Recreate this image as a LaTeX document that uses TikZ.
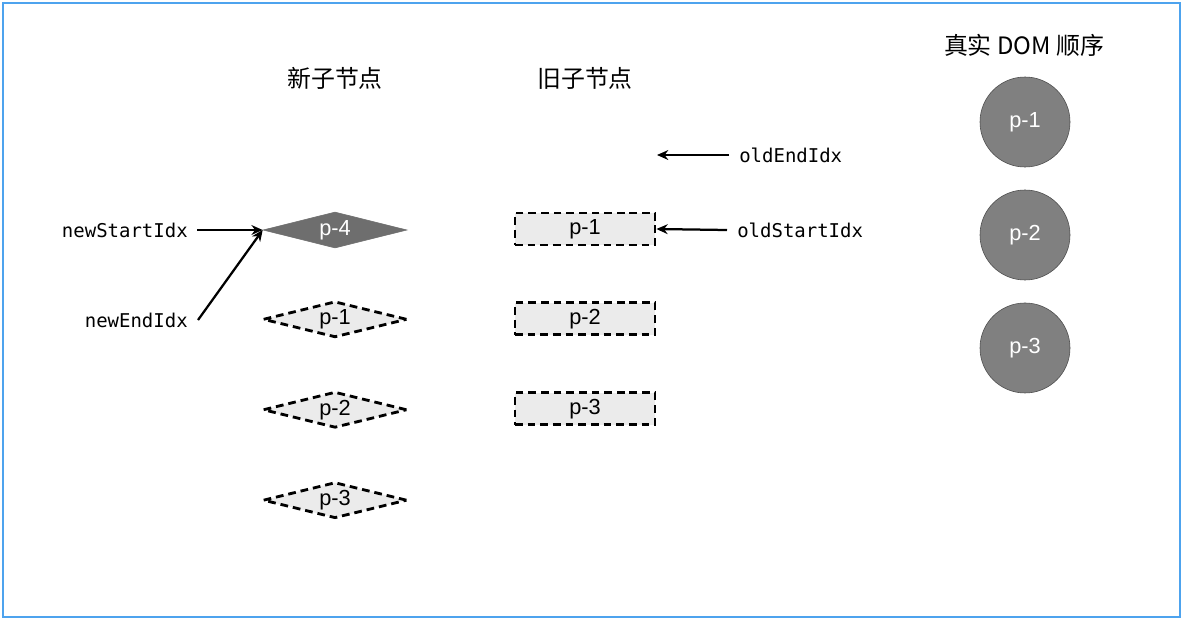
\documentclass[tikz,border=0pt]{standalone}
\usepackage{fontspec}
\setmainfont{Liberation Sans}
\setmonofont{DejaVu Sans Mono}
\newfontfamily\cjkfont{Noto Sans CJK SC}
\usepackage{xcolor}
\usetikzlibrary{shapes.geometric,arrows.meta,positioning}
\definecolor{frameblue}{RGB}{77,163,238}
\definecolor{vnodedark}{RGB}{110,110,110}
\definecolor{domgray}{RGB}{128,128,128}
\definecolor{lightfill}{RGB}{235,235,235}
\tikzset{
  newnode/.style={diamond, aspect=4, minimum width=3.6cm, minimum height=0.9cm, inner sep=0pt, font=\fontsize{15.5}{18}\selectfont},
  newdark/.style={newnode, fill=vnodedark, draw=vnodedark, text=white},
  newdash/.style={newnode, fill=lightfill, draw=black, line width=2pt, dash pattern=on 5.5pt off 3.5pt, miter limit=10},
  oldnode/.style={rectangle, minimum width=3.5cm, minimum height=0.8cm, inner sep=0pt, fill=lightfill, draw=black, line width=2pt, dash pattern=on 5.5pt off 3.5pt, font=\fontsize{15.5}{18}\selectfont},
  domnode/.style={circle, minimum size=2.25cm, inner sep=0pt, fill=domgray, draw=black!70, text=white, font=\fontsize{15.5}{18}\selectfont},
  idxlabel/.style={font=\ttfamily\fontsize{13.5}{16}\selectfont, inner sep=0pt},
  headlabel/.style={font=\cjkfont\fontsize{17}{20}\selectfont, inner sep=0pt},
  arrow/.style={-{Stealth[length=8pt, width=7pt]}, line width=1.6pt},
}
\begin{document}
\begin{tikzpicture}[x=0.025cm, y=-0.025cm]
  \useasboundingbox (0,0) rectangle (1184,620);
  % Frame
  \draw[frameblue, line width=1.6pt] (3,3) rectangle (1180,617);

  % Headings
  \node[headlabel] (newhead) at (335,78) {新子节点};
  \node[headlabel] (oldhead) at (585,78) {旧子节点};
  \node[headlabel] (domhead) at (1024,45) {真实 DOM 顺序};

  % New children
  \node[newdark] (new4) at (335,230) {p-4};
  \node[newdash, below=1.29cm of new4] (new1) {p-1};
  \node[newdash, below=1.29cm of new1] (new2) {p-2};
  \node[newdash, below=1.29cm of new2] (new3) {p-3};

  % Old children
  \node[oldnode] (old1) at (585,229) {p-1};
  \node[oldnode, below=1.375cm of old1] (old2) {p-2};
  \node[oldnode, below=1.375cm of old2] (old3) {p-3};

  % Real DOM
  \node[domnode] (dom1) at (1025,122) {p-1};
  \node[domnode, below=0.56cm of dom1] (dom2) {p-2};
  \node[domnode, below=0.56cm of dom2] (dom3) {p-3};

  % Index pointers
  \node[idxlabel, anchor=east] (newstart) at (188,230) {newStartIdx};
  \node[idxlabel, anchor=east] (newend) at (188,320) {newEndIdx};
  \node[idxlabel, anchor=west] (oldend) at (739,155) {oldEndIdx};
  \node[idxlabel, anchor=west] (oldstart) at (737,230) {oldStartIdx};
  \coordinate (oldendtip) at (657,155);

  % Arrows
  \draw[arrow] ([xshift=0.225cm]newstart.east) -- (new4.west);
  \draw[arrow] ([xshift=0.25cm]newend.east) -- (new4.west);
  \draw[arrow] ([xshift=-0.25cm]oldend.west) -- (oldendtip);
  \draw[arrow] ([xshift=-0.25cm]oldstart.west) -- (old1.east);
\end{tikzpicture}
\end{document}
